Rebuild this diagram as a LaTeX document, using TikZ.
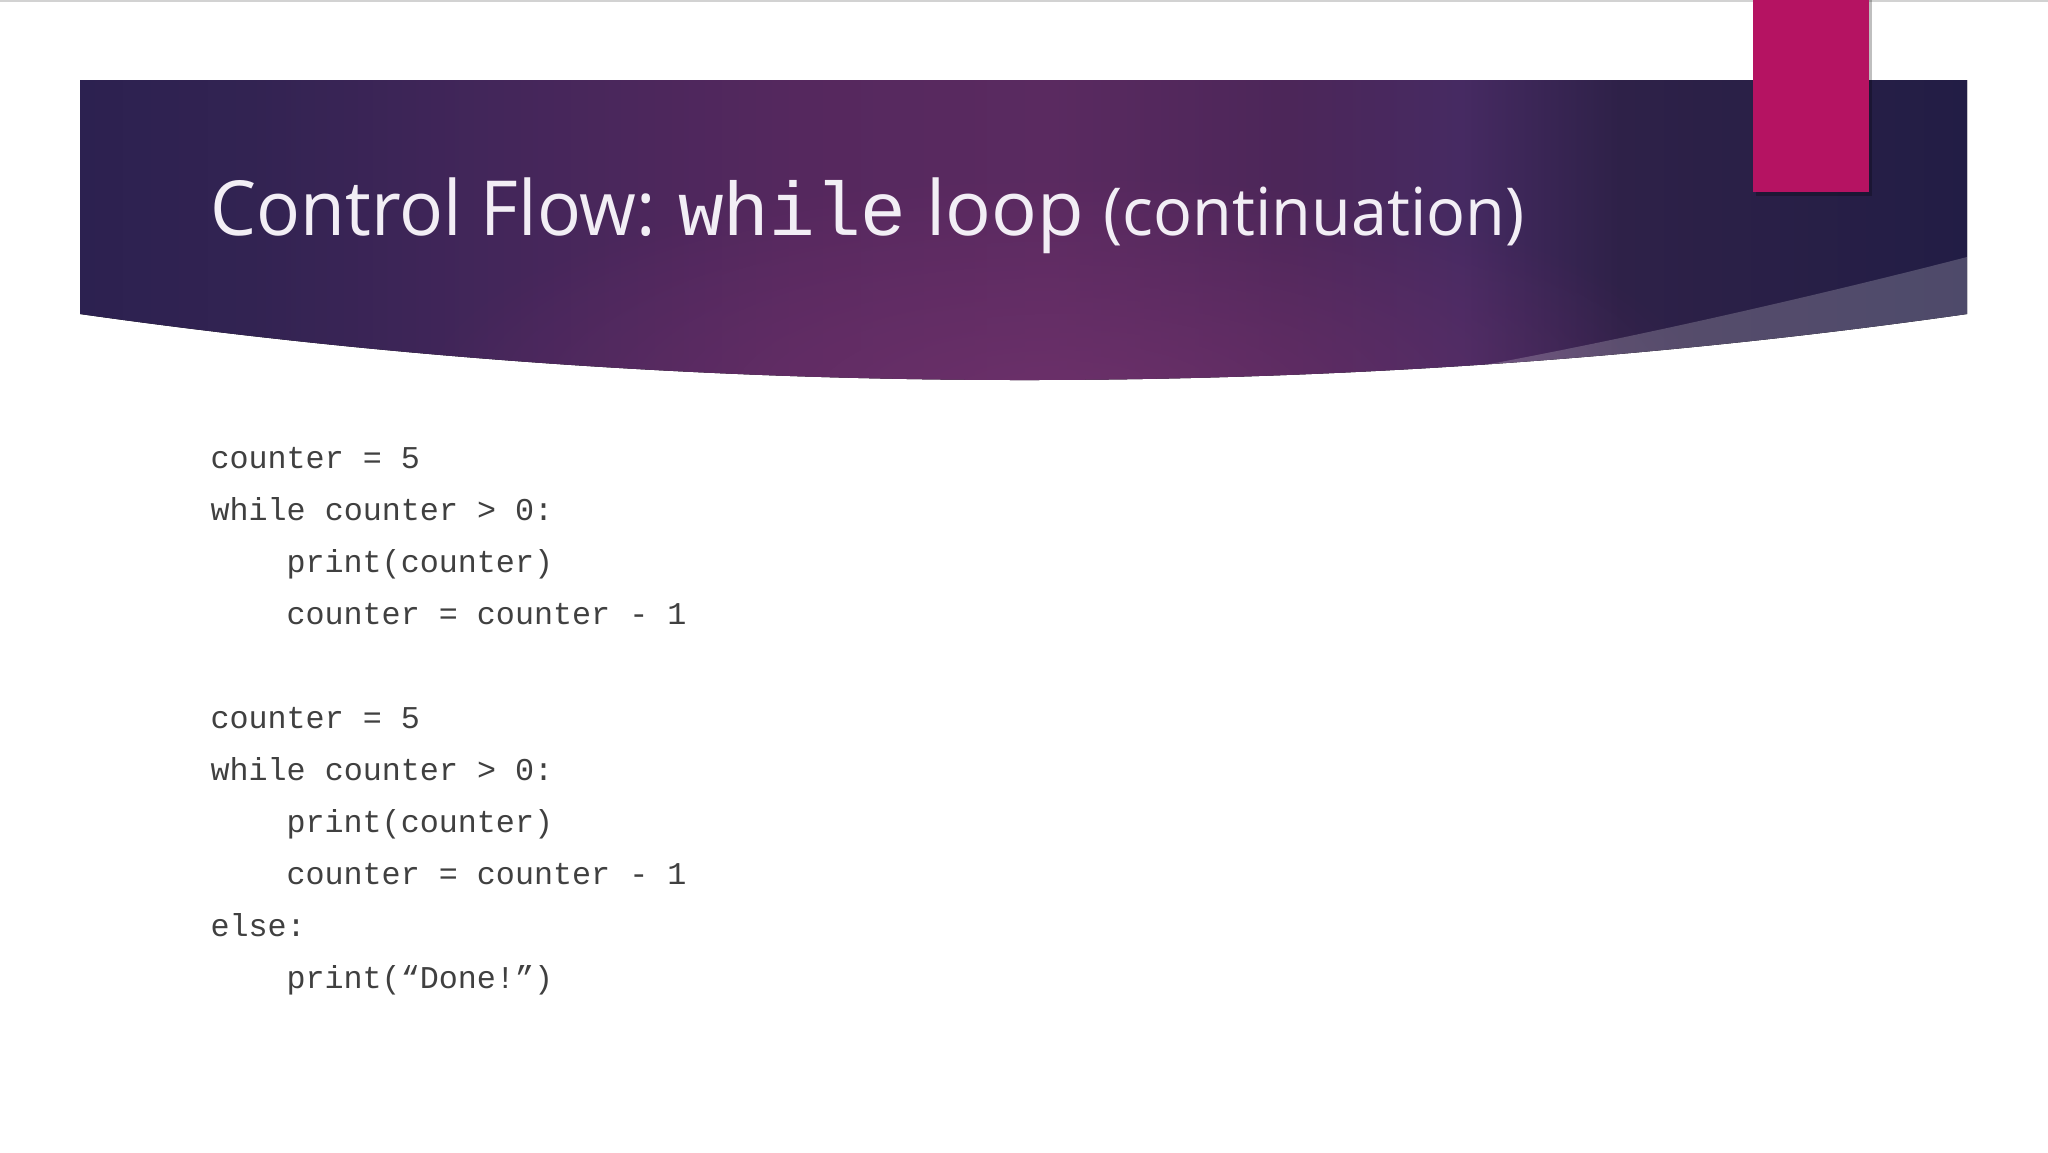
\documentclass[tikz,border=0pt]{standalone}
\usepackage{graphicx}
\usepackage{fontspec}
\setmainfont{Open Sans}
\setmonofont{Liberation Mono}
\usetikzlibrary{fadings}
\definecolor{bandA}{RGB}{44,33,80}
\definecolor{bandB}{RGB}{50,35,82}
\definecolor{bandC}{RGB}{67,38,90}
\definecolor{bandD}{RGB}{85,40,94}
\definecolor{bandE}{RGB}{90,42,96}
\definecolor{bandF}{RGB}{76,38,89}
\definecolor{bandG}{RGB}{70,42,98}
\definecolor{bandH}{RGB}{46,33,72}
\definecolor{bandI}{RGB}{34,29,69}
\definecolor{bandglow}{RGB}{112,50,108}
\definecolor{tabpink}{RGB}{181,19,98}
\definecolor{codegray}{RGB}{64,64,64}
\definecolor{titlewhite}{RGB}{242,238,245}
\pgfdeclarehorizontalshading{bandshade}{100bp}{color(0bp)=(bandA); color(25bp)=(bandA);
  color(29.5bp)=(bandB); color(36bp)=(bandC); color(44bp)=(bandD); color(50.7bp)=(bandE);
  color(57bp)=(bandF); color(61.6bp)=(bandG); color(65.8bp)=(bandH); color(75bp)=(bandI); color(100bp)=(bandI)}
\newcommand{\codefont}{\fontsize{11.9}{14}\ttfamily}
\newcommand{\titlefont}{\fontsize{28.5}{34}\selectfont}
\newcommand{\subtitlefont}{\fontsize{24.8}{30}\selectfont}
\tikzfading[name=glowfade, inner color=transparent!0, outer color=transparent!100]
\tikzset{
  code/.style={anchor=base west, inner sep=0pt, font=\codefont, text=codegray},
  heading/.style={anchor=base west, inner sep=0pt, font=\titlefont, text=titlewhite}
}
\begin{document}
\begin{tikzpicture}[x=0.375pt, y=-0.375pt]
                    \useasboundingbox (0,0) rectangle (2048,1152);
                    \fill[white] (0,0) rectangle (2048,1152);
                    \draw[gray!35, line width=0.75pt] (0,1) -- (2048,1);
                    % title band
                    \def\bandpath{(80,80) -- (1967,80) -- (1967,314) .. controls (1350,402) and (700,402) .. (80,314) -- cycle}
                    \fill[shading=bandshade] \bandpath;
                    \begin{scope}
                      \clip \bandpath;
                      \fill[bandglow, path fading=glowfade, opacity=0.8] (1060,400) ellipse [x radius=650, y radius=230];
                      \fill[white, opacity=0.2] (1440,373) .. controls (1600,345) and (1800,300) .. (1967,257) -- (1990,257) -- (1990,430) -- (1440,430) -- cycle;
                    \end{scope}
                    % bookmark tab
                    \fill[black, opacity=0.25] (1756,0) rectangle (1872,196);
                    \fill[tabpink] (1753,0) rectangle (1869,192);
                    \node[heading] (title) at (210,235) {\scalebox{0.96}[1]{Control Flow:} \hspace{1pt}{\ttfamily while} loop {\subtitlefont\scalebox{0.98}[1]{(continuation)}}};
                    % code lines
                    \node[code] (c1) at (210,468) {counter = 5};
                    \node[code] (c2) at (210,520) {while counter > 0:};
                    \node[code] (c3) at (286,572) {print(counter)};
                    \node[code] (c4) at (286,624) {counter = counter - 1};
                    \node[code] (c5) at (210,728) {counter = 5};
                    \node[code] (c6) at (210,780) {while counter > 0:};
                    \node[code] (c7) at (286,832) {print(counter)};
                    \node[code] (c8) at (286,884) {counter = counter - 1};
                    \node[code] (c9) at (210,936) {else:};
                    \node[code] (c10) at (286,988) {print(“Done!”)};
                  \end{tikzpicture}
\end{document}
